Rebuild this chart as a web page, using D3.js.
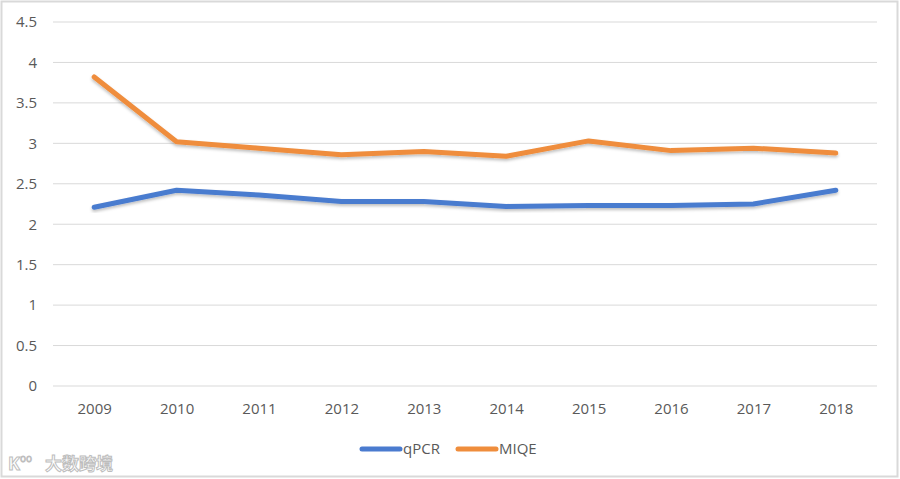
<!DOCTYPE html>
<html>
<head>
<meta charset="utf-8">
<script src="https://cdn.jsdelivr.net/npm/d3@7"></script>
<style>
  body { margin: 0; background: #fff; }
  text { font-family: "Open Sans", "Liberation Sans", sans-serif; fill: #595959; }
</style>
</head>
<body>
<div id="chart"></div>
<script>
// chart data
var years = ["2009", "2010", "2011", "2012", "2013", "2014", "2015", "2016", "2017", "2018"];
var qpcr = [2.21, 2.42, 2.36, 2.28, 2.28, 2.22, 2.23, 2.23, 2.25, 2.42];
var miqe = [3.82, 3.02, 2.94, 2.86, 2.90, 2.84, 3.03, 2.91, 2.94, 2.88];
var yTicks = [0, 0.5, 1, 1.5, 2, 2.5, 3, 3.5, 4, 4.5];
var seriesNames = ["qPCR", "MIQE"];
var colors = ["#4a7bcf", "#ef8d3c"];

var svgWidth = 900;
var svgHeight = 479;
var margin = { top: 22, right: 23, bottom: 93, left: 53 };
var width = svgWidth - margin.left - margin.right;
var height = svgHeight - margin.top - margin.bottom;

var svg = d3.select("#chart").append("svg")
  .attr("width", svgWidth)
  .attr("height", svgHeight);

// outer frame
svg.append("rect")
  .attr("x", 1.5).attr("y", 1.5)
  .attr("width", svgWidth - 4).attr("height", svgHeight - 4)
  .attr("fill", "none")
  .attr("stroke", "#d9d9d9")
  .attr("stroke-width", 2);

var defs = svg.append("defs");
var filter = defs.append("filter").attr("id", "shadow")
  .attr("x", "-5%").attr("y", "-20%").attr("width", "110%").attr("height", "150%");
filter.append("feDropShadow")
  .attr("dx", 0).attr("dy", 2).attr("stdDeviation", 1.5)
  .attr("flood-color", "#000").attr("flood-opacity", 0.25);

var chartGroup = svg.append("g")
  .attr("transform", `translate(${margin.left}, ${margin.top})`);

var xScale = d3.scalePoint()
  .domain(years)
  .range([0, width])
  .padding(0.5);

var yScale = d3.scaleLinear()
  .domain([0, 4.5])
  .range([height, 0]);

// gridlines
chartGroup.append("g")
  .selectAll("line")
  .data(yTicks)
  .enter()
  .append("line")
  .attr("x1", 0)
  .attr("x2", width)
  .attr("y1", d => yScale(d))
  .attr("y2", d => yScale(d))
  .attr("stroke", "#d9d9d9")
  .attr("stroke-width", 1);

// y axis labels
var leftAxis = d3.axisLeft(yScale)
  .tickValues(yTicks)
  .tickFormat(d => String(d))
  .tickSize(0)
  .tickPadding(16);
chartGroup.append("g")
  .call(leftAxis)
  .call(g => g.select(".domain").remove())
  .selectAll("text")
  .style("font-size", "15px");

// x axis labels
var bottomAxis = d3.axisBottom(xScale).tickSize(0).tickPadding(17);
chartGroup.append("g")
  .attr("transform", `translate(0, ${height})`)
  .call(bottomAxis)
  .call(g => g.select(".domain").remove())
  .selectAll("text")
  .style("font-size", "15px");

// lines
var line = d3.line()
  .x((d, i) => xScale(years[i]))
  .y(d => yScale(d));

[qpcr, miqe].forEach(function(vals, i) {
  chartGroup.append("path")
    .datum(vals)
    .attr("d", line)
    .attr("fill", "none")
    .attr("stroke", colors[i])
    .attr("stroke-width", 5)
    .attr("stroke-linecap", "round")
    .attr("stroke-linejoin", "round")
    .attr("filter", "url(#shadow)");
});

// legend
var legendX = [362, 458];
seriesNames.forEach(function(name, i) {
  var lg = svg.append("g").attr("transform", `translate(${legendX[i]}, 449)`);
  lg.append("line")
    .attr("x1", 0).attr("x2", 38)
    .attr("y1", 0).attr("y2", 0)
    .attr("stroke", colors[i])
    .attr("stroke-width", 5)
    .attr("stroke-linecap", "round");
  lg.append("text")
    .attr("x", 41)
    .attr("y", 5)
    .style("font-size", "15px")
    .text(name);
});

// watermark
var wm = svg.append("g").attr("transform", "translate(8, 470)");
wm.append("text")
  .attr("x", 0)
  .style("font-size", "18px")
  .style("font-weight", "bold")
  .style("fill", "#fff")
  .style("stroke", "#bdbdbd")
  .style("stroke-width", 1)
  .text("K");
wm.append("text")
  .attr("x", 12)
  .attr("y", -8)
  .style("font-size", "10px")
  .style("fill", "#fff")
  .style("stroke", "#bdbdbd")
  .style("stroke-width", 0.8)
  .text("oo");
wm.append("text")
  .attr("x", 37)
  .style("font-family", "'Noto Sans CJK SC', sans-serif")
  .style("font-size", "17px")
  .style("font-weight", "bold")
  .style("fill", "#fff")
  .style("stroke", "#bdbdbd")
  .style("stroke-width", 1)
  .text("大数跨境");
</script>
</body>
</html>
